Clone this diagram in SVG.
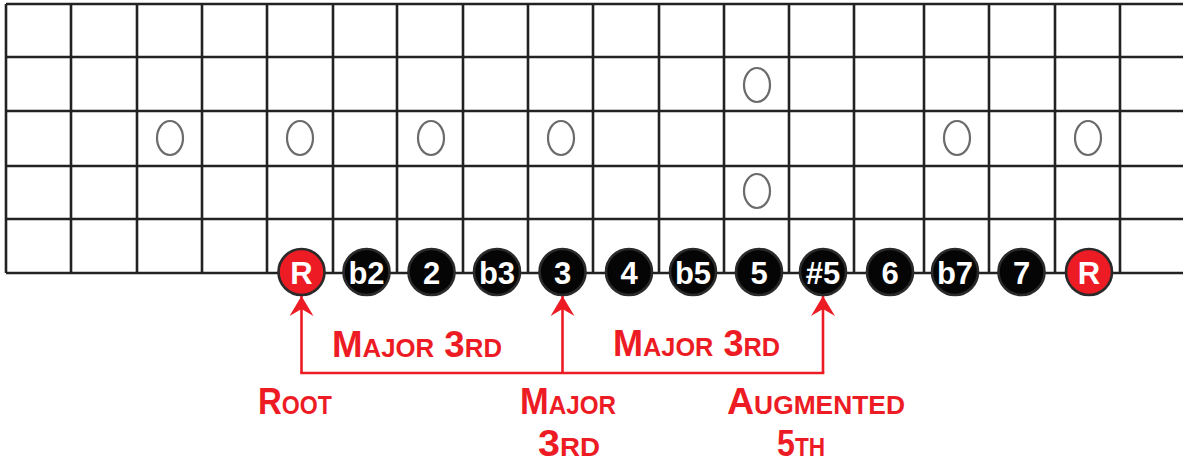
<svg xmlns="http://www.w3.org/2000/svg" width="1183" height="465" viewBox="0 0 1183 465">
<style>
.grid{stroke:#222;stroke-width:2.6;fill:none}
.mark{fill:#fff;stroke:#6b6b6b;stroke-width:2.2}
.note{stroke:#2a2a2a;stroke-width:2.6}
.blk{fill:#050505}
.red{fill:#ed1c24}
.nt{font-family:"Liberation Sans Narrow","Liberation Sans",sans-serif;font-weight:bold;font-size:31px;fill:#fff;text-anchor:middle}
.lbl{font-family:"Liberation Sans Narrow","Liberation Sans",sans-serif;font-weight:bold;font-size:37px;fill:#ed1c24;font-variant:small-caps}
.con{stroke:#ed1c24;stroke-width:2.6;fill:none}
</style>
<defs>
<marker id="ah" viewBox="0 0 20 24" refX="20" refY="12" markerWidth="20" markerHeight="24" markerUnits="userSpaceOnUse" orient="auto">
<path d="M20,12 L0,0 L7,12 L0,24 Z" fill="#ed1c24"/>
</marker>
</defs>
<rect width="1183" height="465" fill="#fff"/>
<g id="fretboard" class="grid">
<path d="M6,4 H1183 M6,57 H1183 M6,111 H1183 M6,166 H1183 M6,219 H1183 M6,273 H1183"/>
<path d="M6,4 V273 M71,4 V273 M137,4 V273 M202,4 V273 M267,4 V273 M333,4 V273 M397,4 V273 M463,4 V273 M528,4 V273 M593,4 V273 M659,4 V273 M724,4 V273 M789,4 V273 M854,4 V273 M924,4 V273 M989,4 V273 M1055,4 V273 M1120,4 V273"/>
</g>
<g id="inlays">
<ellipse class="mark" cx="170" cy="138" rx="13" ry="17"/>
<ellipse class="mark" cx="300" cy="138" rx="13" ry="17"/>
<ellipse class="mark" cx="431" cy="138" rx="13" ry="17"/>
<ellipse class="mark" cx="561" cy="138" rx="13" ry="17"/>
<ellipse class="mark" cx="757" cy="85" rx="13" ry="17"/>
<ellipse class="mark" cx="757" cy="191" rx="13" ry="17"/>
<ellipse class="mark" cx="957" cy="138" rx="13" ry="17"/>
<ellipse class="mark" cx="1088" cy="138" rx="13" ry="17"/>
</g>
<g id="connectors">
<path class="con" d="M301.5,373 V296" marker-end="url(#ah)"/>
<path class="con" d="M562.5,373 V296" marker-end="url(#ah)"/>
<path class="con" d="M823,373 V296" marker-end="url(#ah)"/>
<path class="con" d="M300.2,373 H824.3"/>
</g>
<g id="note-R1"><circle class="note red" cx="301.5" cy="272" r="23"/><text class="nt" x="301.5" y="284">R</text></g>
<g id="note-b2"><circle class="note blk" cx="366.5" cy="272" r="23"/><text class="nt" x="366.5" y="284">b2</text></g>
<g id="note-2"><circle class="note blk" cx="431.5" cy="272" r="23"/><text class="nt" x="431.5" y="284">2</text></g>
<g id="note-b3"><circle class="note blk" cx="497" cy="272" r="23"/><text class="nt" x="497" y="284">b3</text></g>
<g id="note-3"><circle class="note blk" cx="562.5" cy="272" r="23"/><text class="nt" x="562.5" y="284">3</text></g>
<g id="note-4"><circle class="note blk" cx="629" cy="272" r="23"/><text class="nt" x="629" y="284">4</text></g>
<g id="note-b5"><circle class="note blk" cx="693" cy="272" r="23"/><text class="nt" x="693" y="284">b5</text></g>
<g id="note-5"><circle class="note blk" cx="759" cy="272" r="23"/><text class="nt" x="759" y="284">5</text></g>
<g id="note-s5"><circle class="note blk" cx="823" cy="272" r="23"/><text class="nt" x="823" y="284">#5</text></g>
<g id="note-6"><circle class="note blk" cx="890" cy="272" r="23"/><text class="nt" x="890" y="284">6</text></g>
<g id="note-b7"><circle class="note blk" cx="955" cy="272" r="23"/><text class="nt" x="955" y="284">b7</text></g>
<g id="note-7"><circle class="note blk" cx="1021.5" cy="272" r="23"/><text class="nt" x="1021.5" y="284">7</text></g>
<g id="note-R2"><circle class="note red" cx="1089" cy="272" r="23"/><text class="nt" x="1089" y="284">R</text></g>
<g id="labels">
<text class="lbl" x="332" y="357" textLength="170" lengthAdjust="spacingAndGlyphs">Major 3rd</text>
<text class="lbl" x="613" y="356" textLength="167" lengthAdjust="spacingAndGlyphs">Major 3rd</text>
<text class="lbl" x="258" y="414" textLength="74" lengthAdjust="spacingAndGlyphs">Root</text>
<text class="lbl" x="520" y="414" textLength="96" lengthAdjust="spacingAndGlyphs">Major</text>
<text class="lbl" x="538" y="456" textLength="62" lengthAdjust="spacingAndGlyphs">3rd</text>
<text class="lbl" x="727" y="414" textLength="178" lengthAdjust="spacingAndGlyphs">Augmented</text>
<text class="lbl" x="777" y="456" textLength="48" lengthAdjust="spacingAndGlyphs">5th</text>
</g>
</svg>
